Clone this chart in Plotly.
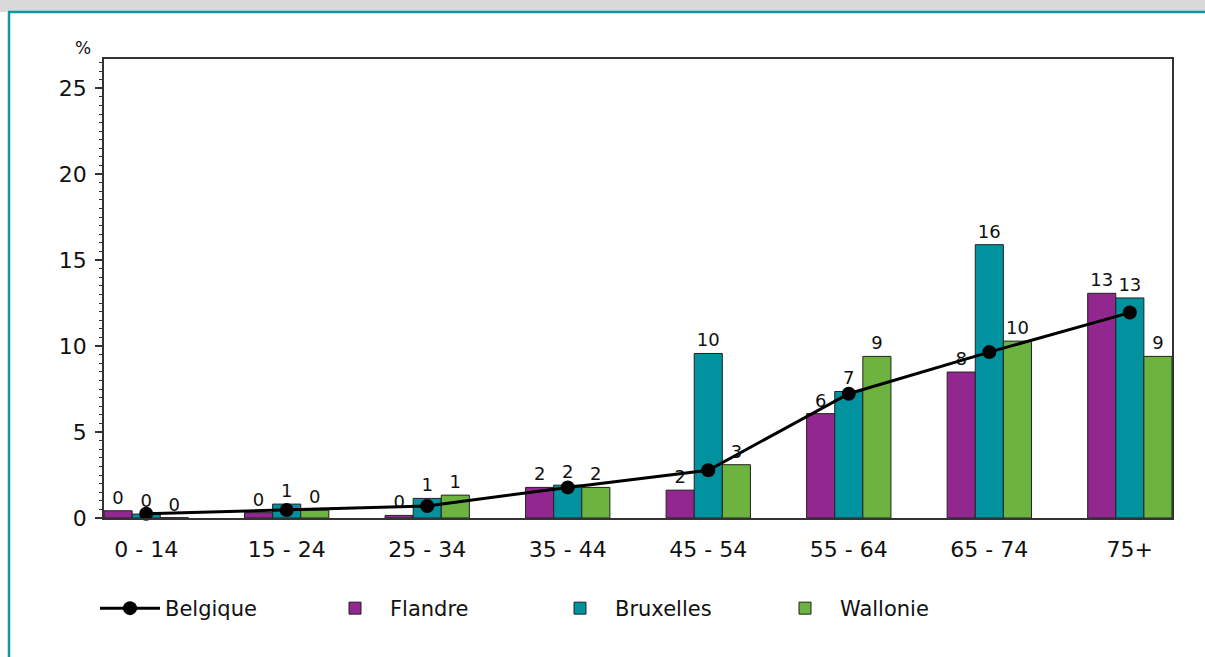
import plotly.graph_objects as go

categories = ["0 - 14", "15 - 24", "25 - 34", "35 - 44", "45 - 54", "55 - 64", "65 - 74", "75+"]
belgique = [0.25, 0.46, 0.70, 1.78, 2.78, 7.23, 9.65, 11.95]
flandre = [0.42, 0.31, 0.15, 1.78, 1.62, 6.07, 8.49, 13.07]
bruxelles = [0.23, 0.81, 1.14, 1.91, 9.57, 7.36, 15.90, 12.80]
wallonie = [0.02, 0.46, 1.33, 1.78, 3.10, 9.40, 10.29, 9.40]
y_ticks = [0, 5, 10, 15, 20, 25]

FONT = "DejaVu Sans, Arial, sans-serif"
TEAL_FRAME = "#0E97A5"

fig = go.Figure()

fig.add_trace(go.Scatter(
    x=categories, y=belgique, name="Belgique", mode="lines+markers",
    line=dict(color="black", width=3),
    marker=dict(color="black", size=14),
    cliponaxis=False,
))

bar_specs = [("Flandre", flandre, "#92278F"), ("Bruxelles", bruxelles, "#00929F"), ("Wallonie", wallonie, "#6CB33F")]
for name, vals, col in bar_specs:
    fig.add_trace(go.Bar(
        x=categories, y=vals, name=name,
        marker=dict(color=col, line=dict(color="#222222", width=1)),
        texttemplate="%{y:.0f}", textposition="outside",
        textfont=dict(family=FONT, size=18, color="#111111"),
        cliponaxis=False,
    ))

L, R, T, B = 104, 33, 59, 139
W, H = 1205, 657
pw, ph = W - L - R, H - T - B

def px(x):
    return (x - L) / pw

def py(y):
    return (H - B - y) / ph

shapes = [
    dict(type="rect", xref="paper", yref="paper", x0=px(-5), x1=px(W + 5), y0=py(12), y1=py(-5),
         fillcolor="#D9D9D9", line=dict(width=0), layer="below"),
    dict(type="line", xref="paper", yref="paper", x0=px(8), x1=px(W + 5), y0=py(12), y1=py(12),
         line=dict(color=TEAL_FRAME, width=2.5)),
    dict(type="line", xref="paper", yref="paper", x0=px(9), x1=px(9), y0=py(12), y1=py(H + 5),
         line=dict(color=TEAL_FRAME, width=2.5)),
]

fig.update_layout(
    width=W, height=H,
    margin=dict(l=L, r=R, t=T, b=B, autoexpand=False),
    paper_bgcolor="white", plot_bgcolor="white",
    barmode="group", bargap=0.4, bargroupgap=0,
    font=dict(family=FONT, size=20, color="#111111"),
    showlegend=True,
    legend=dict(
        orientation="h", x=px(95), xanchor="left", y=py(588), yanchor="top",
        traceorder="normal", font=dict(family=FONT, size=21, color="#111111"),
        entrywidth=150, entrywidthmode="pixels", itemwidth=60,
        bgcolor="rgba(0,0,0,0)",
    ),
    shapes=shapes,
    annotations=[dict(text="%", xref="paper", yref="paper", x=px(83), y=py(48),
                      xanchor="center", yanchor="middle",
                      showarrow=False, font=dict(family=FONT, size=17, color="#111111"))],
    xaxis=dict(
        range=[-0.3, 7.3], showline=True, linecolor="#333333", linewidth=1.5, mirror=True,
        ticks="", showgrid=False, ticklabelstandoff=11,
        tickfont=dict(family=FONT, size=22, color="#111111"),
    ),
    yaxis=dict(
        range=[0, 26.7], tickvals=y_ticks, showline=True, linecolor="#333333", linewidth=1.5, mirror=True,
        ticks="outside", ticklen=7, tickcolor="#333333", tickwidth=1.5, showgrid=False, zeroline=False,
        ticklabelstandoff=4,
        minor=dict(dtick=0.5, ticks="outside", ticklen=3, tickcolor="#333333", tickwidth=1),
        tickfont=dict(family=FONT, size=22, color="#111111"),
    ),
)

fig.write_html("out.html", config={"displayModeBar": False},
               post_script="document.body.style.margin='0';")
